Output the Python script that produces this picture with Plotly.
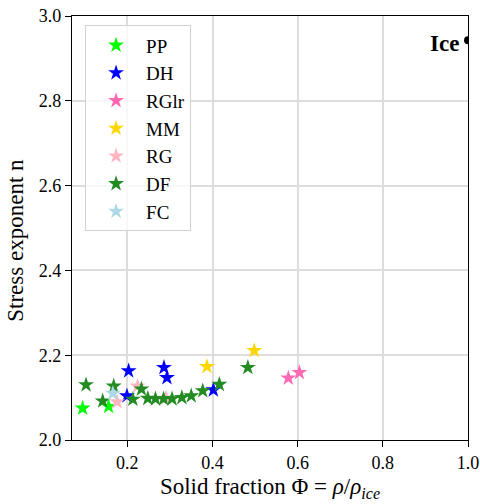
import plotly.graph_objects as go

# Data
pp_x = [0.095, 0.156]
pp_y = [2.075, 2.079]
dh_x = [0.203, 0.286, 0.293, 0.199, 0.402]
dh_y = [2.163, 2.171, 2.147, 2.104, 2.118]
rglr_x = [0.578, 0.604]
rglr_y = [2.146, 2.159]
mm_x = [0.387, 0.498]
mm_y = [2.173, 2.211]
rg_x = [0.224, 0.176, 0.291]
rg_y = [2.127, 2.090, 2.099]
df_x = [0.103, 0.168, 0.142, 0.233, 0.213, 0.248, 0.266, 0.285, 0.305, 0.328, 0.350, 0.377, 0.416, 0.483]
df_y = [2.130, 2.127, 2.092, 2.120, 2.096, 2.098, 2.097, 2.097, 2.097, 2.100, 2.104, 2.116, 2.131, 2.171]
fc_x = [0.166]
fc_y = [2.110]
ice_x = [1.0]
ice_y = [2.943]

x_ticks = [0.2, 0.4, 0.6, 0.8, 1.0]
y_ticks = [2.0, 2.2, 2.4, 2.6, 2.8, 3.0]

series = [
    ("PP", pp_x, pp_y, "#00ff00"),
    ("DH", dh_x, dh_y, "#0000ff"),
    ("RGlr", rglr_x, rglr_y, "#ff69b4"),
    ("MM", mm_x, mm_y, "#ffd700"),
    ("RG", rg_x, rg_y, "#ffb6c1"),
    ("DF", df_x, df_y, "#228b22"),
    ("FC", fc_x, fc_y, "#add8e6"),
]

FONT = "Liberation Serif, DejaVu Serif, serif"

fig = go.Figure()
for name, xs, ys, col in series:
    fig.add_trace(go.Scatter(
        x=xs, y=ys, mode="markers", name=name,
        marker=dict(symbol="star", size=12, color=col, line=dict(width=0)),
    ))

fig.add_trace(go.Scatter(
    x=ice_x, y=ice_y, mode="markers", showlegend=False, cliponaxis=True,
    marker=dict(symbol="circle", size=8, color="black"),
))
fig.add_annotation(x=ice_x[0], y=ice_y[0], text="<b>Ice</b>", showarrow=False,
                   xanchor="right", yanchor="middle", xshift=-7, yshift=-3,
                   font=dict(family=FONT, size=23, color="black"))

# y-axis title as annotation (centred slightly below axis middle as in reference)
fig.add_annotation(xref="paper", yref="paper", x=0, y=0.47, xshift=-56,
                   text="Stress exponent n", textangle=-90, showarrow=False,
                   xanchor="center", yanchor="middle",
                   font=dict(family=FONT, size=23, color="black"))

fig.update_layout(
    width=480, height=504,
    margin=dict(l=72, r=12, t=16, b=64, autoexpand=False),
    plot_bgcolor="white", paper_bgcolor="white",
    font=dict(family=FONT, size=18, color="black"),
    legend=dict(
        x=0.033, y=0.978, xanchor="left", yanchor="top",
        bgcolor="rgba(255,255,255,0.8)", bordercolor="#d0d0d0", borderwidth=1,
        font=dict(family=FONT, size=19), itemwidth=50, tracegroupgap=0,
        entrywidth=112, entrywidthmode="pixels",
    ),
    showlegend=True,
)
fig.update_xaxes(
    range=[0.07, 1.0], tickvals=x_ticks, ticktext=[f"{v:.1f}" for v in x_ticks],
    showgrid=True, gridcolor="#dddddd", gridwidth=1.5,
    showline=True, linecolor="black", linewidth=1.2, mirror=True,
    ticks="outside", ticklen=6, tickcolor="black", zeroline=False, automargin=False,
    title=dict(text="Solid fraction Φ = <i>ρ</i>/<i>ρ</i><sub><i>ice</i></sub>",
               font=dict(family=FONT, size=23), standoff=6),
)
fig.update_yaxes(
    range=[2.0, 3.0], tickvals=y_ticks, ticktext=[f"{v:.1f}" for v in y_ticks],
    showgrid=True, gridcolor="#dddddd", gridwidth=1.5,
    showline=True, linecolor="black", linewidth=1.2, mirror=True,
    ticks="outside", ticklen=6, tickcolor="black", zeroline=False, automargin=False,
)

fig.write_html("out.html")
